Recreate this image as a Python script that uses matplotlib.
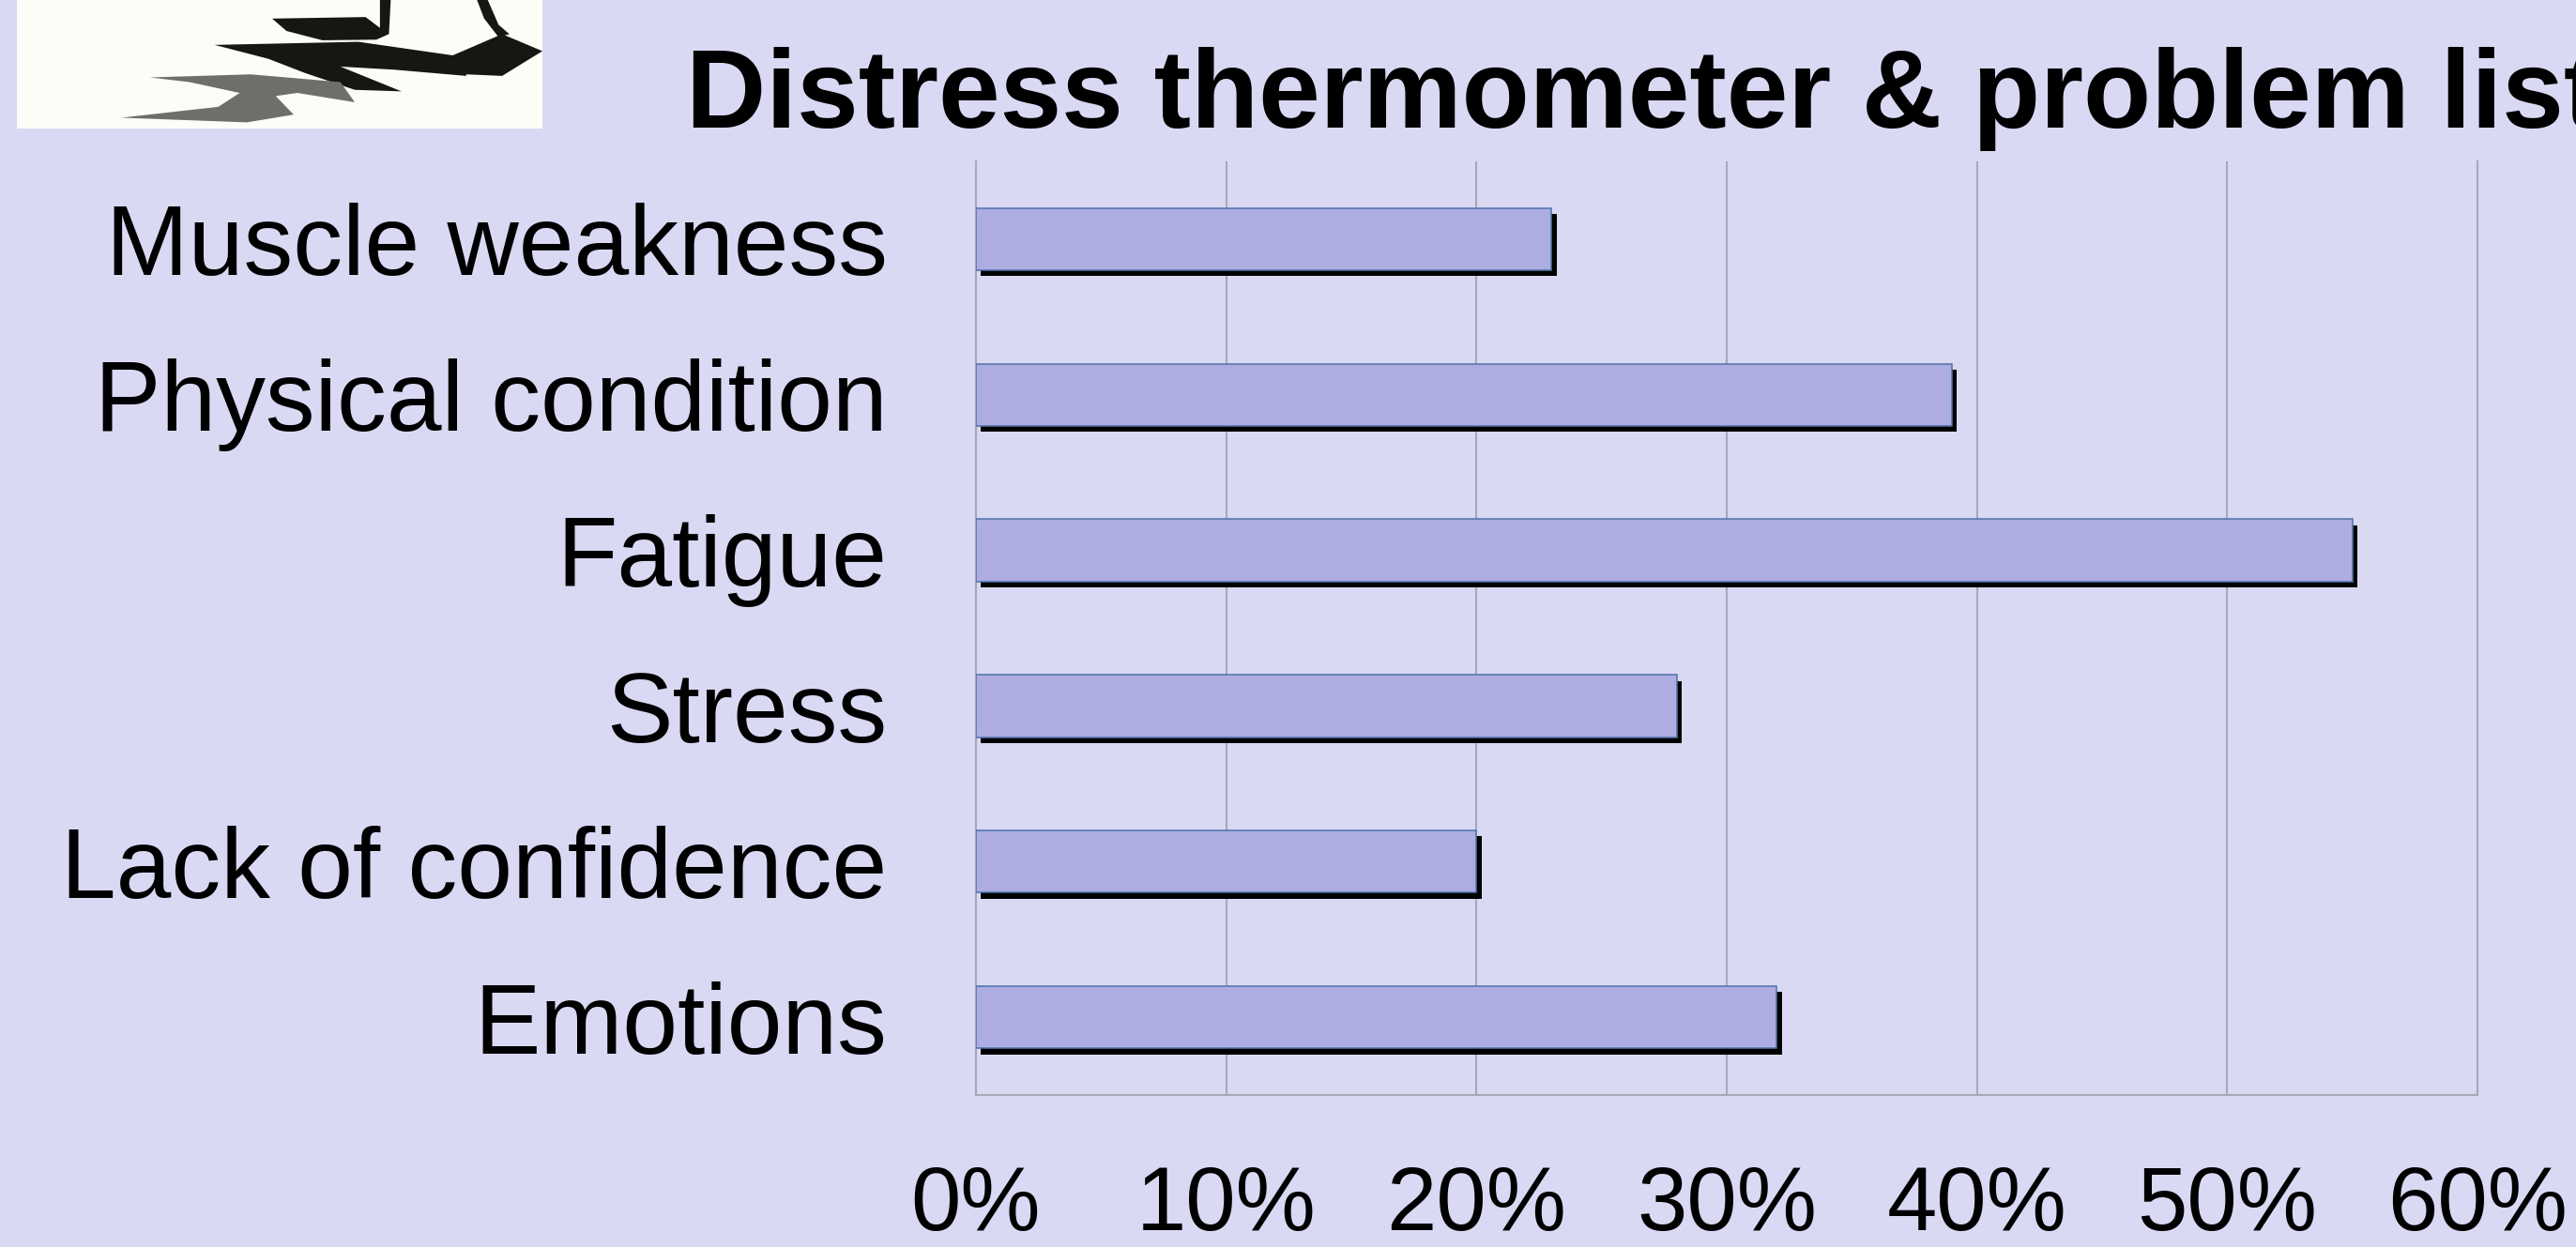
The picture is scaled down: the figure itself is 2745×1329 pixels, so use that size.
#!/usr/bin/env python3

import numpy as np
import matplotlib
matplotlib.use('Agg')
import matplotlib.pyplot as plt
import matplotlib.patheffects as pe
from matplotlib.ticker import FuncFormatter

categories = ['Muscle weakness', 'Physical condition', 'Fatigue',
              'Stress', 'Lack of confidence', 'Emotions']
values = [0.23, 0.39, 0.55, 0.28, 0.20, 0.32]
xticks = [0.0, 0.1, 0.2, 0.3, 0.4, 0.5, 0.6]

BG = '#d9d9f4'
BAR = '#adade2'
GRID = '#a8a8b6'

plt.rcParams['font.family'] = ['Liberation Sans', 'DejaVu Sans']

f = plt.figure(figsize=(27.45, 13.29), dpi=100, facecolor=BG)

ax = f.add_axes([1040 / 2745, 1 - 1167 / 1329, 1600 / 2745, 995 / 1329])
ax.set_facecolor(BG)

y = np.arange(len(categories))
bars = ax.barh(y, values, height=0.4, color=BAR, edgecolor='#4f72a8',
               linewidth=1.1, zorder=3)
for b in bars:
    b.set_path_effects([pe.SimplePatchShadow(offset=(3.8, -4.5), shadow_rgbFace='black', alpha=1.0),
                        pe.Normal()])

ax.set_ylim(len(categories) - 0.5, -0.5)
ax.set_xlim(0, 0.6)
ax.set_yticks(y)
ax.set_yticklabels(categories, fontsize=76)
ax.set_xticks(xticks)
ax.xaxis.set_major_formatter(FuncFormatter(lambda v, p: '%d%%' % round(v * 100)))
ax.tick_params(axis='x', labelsize=69, length=0, pad=53)
ax.tick_params(axis='y', length=0, pad=68)
ax.grid(axis='x', color=GRID, linewidth=1.5, zorder=0)
ax.set_axisbelow(True)
ax.spines['top'].set_visible(False)
for s in ['left', 'bottom', 'right']:
    ax.spines[s].set_color(GRID)
    ax.spines[s].set_linewidth(1.5)

# logo in the top-left corner
lg = f.add_axes([18 / 2745, 1 - 137 / 1329, 560 / 2745, 137 / 1329])
lg.set_facecolor('#fdfdf8')
lg.set_xlim(0, 1462)
lg.set_ylim(415, 0)
lg.set_xticks([])
lg.set_yticks([])
for s in lg.spines.values():
    s.set_visible(False)
seat = [(710, 60), (970, 55), (1010, 90), (1010, 0), (1040, 0), (1035, 110),
        (1000, 128), (850, 130), (750, 100)]
post = [(1280, 0), (1310, 0), (1340, 80), (1370, 110), (1340, 120), (1300, 60)]
head = [(1210, 180), (1350, 110), (1462, 165), (1350, 245), (1250, 240)]
zig_top = [(550, 145), (950, 135), (1250, 185), (1250, 245), (1050, 225),
           (900, 215), (1070, 295), (940, 290), (800, 235), (700, 190)]
zig_low = [(370, 250), (650, 240), (900, 265), (940, 330), (780, 300),
           (720, 310), (770, 370), (640, 395), (290, 380), (560, 345), (620, 300), (480, 265)]
for pts, c in [(seat, '#161712'), (post, '#161712'), (head, '#161712'),
               (zig_top, '#161712'), (zig_low, '#6e6e6a')]:
    xs, ys = zip(*pts)
    lg.fill(xs, ys, color=c, lw=0)

f.text(731 / 2745, 1 - 136 / 1329, 'Distress thermometer & problem list',
       fontsize=85, fontweight='bold', ha='left', va='baseline')

f.savefig('out.png', facecolor=BG)
